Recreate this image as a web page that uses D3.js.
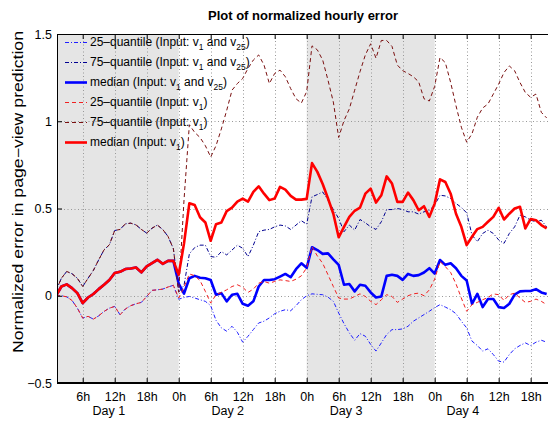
<!DOCTYPE html>
<html>
<head>
<meta charset="utf-8">
<script src="https://cdn.jsdelivr.net/npm/d3@7"></script>
<style>
  body { margin: 0; background: #fff; }
  text { font-family: "Liberation Sans", Arial, Helvetica, sans-serif; fill: #000; }
</style>
</head>
<body>
<svg id="chart" width="548" height="422"></svg>
<script>
// hourly samples, hour 1 .. 93
var hours = d3.range(1, 94);

// 25-quantile (Input: v1 and v25)
var q25Both = [0.0, 0.0, -0.006, -0.027, -0.071, -0.128, -0.118, -0.134, -0.115, -0.09, -0.071, -0.061, -0.109, -0.076, -0.057, -0.046, -0.038, -0.004, 0.031, 0.034, 0.038, 0.05, 0.06, -0.02,
  -0.01, -0.004, -0.013, -0.023, -0.032, -0.057, -0.141, -0.184, -0.203, -0.175, -0.209, -0.266, -0.232, -0.194, -0.156, -0.146, -0.127, -0.103, -0.089, -0.08, -0.086, -0.057, -0.023, 0.0,
  0.011, 0.008, 0.006, -0.008, -0.032, -0.099, -0.16, -0.213, -0.255, -0.217, -0.232, -0.279, -0.317, -0.27, -0.222, -0.194, -0.194, -0.19, -0.175, -0.146, -0.127, -0.108, -0.089, -0.068,
  -0.051, -0.065, -0.08, -0.103, -0.146, -0.184, -0.26, -0.285, -0.317, -0.304, -0.337, -0.375, -0.38, -0.337, -0.304, -0.285, -0.27, -0.285, -0.266, -0.255, -0.266];

// 75-quantile (Input: v1 and v25)
var q75Both = [0.03, 0.10, 0.139, 0.126, 0.10, 0.053, 0.10, 0.145, 0.206, 0.263, 0.292, 0.374, 0.38, 0.412, 0.416, 0.406, 0.38, 0.359, 0.387, 0.405, 0.38, 0.34, 0.27, 0.02,
  0.06, 0.24, 0.276, 0.29, 0.29, 0.225, 0.22, 0.253, 0.234, 0.262, 0.29, 0.272, 0.224, 0.29, 0.367, 0.376, 0.38, 0.395, 0.405, 0.4, 0.38, 0.405, 0.43, 0.41,
  0.567, 0.58, 0.595, 0.548, 0.494, 0.443, 0.367, 0.405, 0.376, 0.437, 0.418, 0.395, 0.38, 0.424, 0.494, 0.494, 0.5, 0.494, 0.481, 0.481, 0.468, 0.481, 0.49, 0.519,
  0.576, 0.572, 0.557, 0.529, 0.506, 0.475, 0.348, 0.31, 0.357, 0.376, 0.357, 0.32, 0.3, 0.357, 0.395, 0.462, 0.452, 0.433, 0.424, 0.433, 0.395];

// median (Input: v1 and v25)
var medBoth = [0.0, 0.053, 0.065, 0.044, 0.015, -0.042, -0.01, 0.01, 0.038, 0.063, 0.09, 0.13, 0.137, 0.153, 0.156, 0.162, 0.134, 0.168, 0.187, 0.206, 0.183, 0.2, 0.2, 0.07,
  0.012, 0.10, 0.114, 0.103, 0.10, 0.09, 0.006, 0.015, -0.032, 0.006, 0.011, -0.046, -0.057, -0.032, 0.053, 0.09, 0.09, 0.095, 0.11, 0.125, 0.106, 0.152, 0.186, 0.16,
  0.278, 0.262, 0.24, 0.243, 0.209, 0.177, 0.063, 0.067, 0.025, 0.063, 0.057, 0.019, -0.01, -0.004, 0.114, 0.12, 0.114, 0.091, 0.125, 0.114, 0.118, 0.133, 0.158, 0.127,
  0.205, 0.177, 0.186, 0.158, 0.114, 0.087, -0.046, 0.011, -0.065, -0.019, -0.019, -0.065, -0.07, -0.046, 0.006, 0.025, 0.027, 0.027, 0.038, 0.019, 0.01];

// 25-quantile (Input: v1)
var q25One = [0.0, 0.0, -0.006, -0.027, -0.071, -0.128, -0.118, -0.134, -0.115, -0.09, -0.071, -0.061, -0.109, -0.076, -0.057, -0.046, -0.038, -0.004, 0.031, 0.034, 0.038, 0.05, 0.06, -0.013,
  0.05, 0.125, 0.115, 0.087, 0.025, -0.042, 0.006, 0.019, 0.034, 0.053, 0.063, 0.049, 0.019, 0.038, 0.072, 0.082, 0.072, 0.082, 0.091, 0.087, 0.082, 0.095, 0.114, 0.16,
  0.281, 0.228, 0.186, 0.12, 0.053, -0.013, -0.019, -0.019, -0.004, 0.011, -0.004, -0.032, -0.051, -0.023, 0.006, -0.004, -0.038, -0.019, 0.0, 0.011, 0.015, 0.0, 0.034, 0.095,
  0.196, 0.167, 0.133, 0.068, -0.013, -0.089, -0.051, -0.038, -0.023, -0.01, 0.011, 0.006, -0.027, 0.006, 0.015, -0.013, -0.038, -0.032, -0.019, -0.032, -0.051];

// 75-quantile (Input: v1)
var q75One = [0.03, 0.10, 0.139, 0.126, 0.10, 0.053, 0.10, 0.145, 0.206, 0.263, 0.292, 0.374, 0.38, 0.412, 0.416, 0.406, 0.38, 0.359, 0.387, 0.405, 0.38, 0.34, 0.27, 0.02,
  0.55, 0.98, 0.936, 0.907, 0.86, 0.795, 0.86, 0.956, 1.062, 1.178, 1.216, 1.245, 1.303, 1.351, 1.38, 1.322, 1.216, 1.274, 1.293, 1.255, 1.187, 1.129, 1.104, 1.17,
  1.432, 1.409, 1.351, 1.235, 1.11, 0.907, 1.004, 1.071, 1.178, 1.284, 1.38, 1.444, 1.361, 1.463, 1.463, 1.429, 1.322, 1.29, 1.274, 1.255, 1.226, 1.129, 1.116, 1.2,
  1.365, 1.336, 1.222, 1.089, 0.966, 0.88, 0.928, 1.023, 1.076, 1.099, 1.156, 1.213, 1.279, 1.317, 1.289, 1.222, 1.165, 1.137, 1.156, 1.051, 1.019];

// median (Input: v1)
var medOne = [0.0, 0.053, 0.065, 0.044, 0.015, -0.042, -0.01, 0.01, 0.038, 0.063, 0.09, 0.13, 0.137, 0.153, 0.156, 0.162, 0.134, 0.168, 0.187, 0.206, 0.183, 0.2, 0.2, 0.12,
  0.30, 0.53, 0.52, 0.45, 0.42, 0.315, 0.41, 0.42, 0.485, 0.505, 0.54, 0.557, 0.54, 0.595, 0.627, 0.585, 0.548, 0.557, 0.624, 0.608, 0.572, 0.551, 0.551, 0.555,
  0.76, 0.71, 0.64, 0.557, 0.47, 0.335, 0.395, 0.452, 0.487, 0.505, 0.585, 0.614, 0.534, 0.576, 0.684, 0.643, 0.538, 0.538, 0.591, 0.548, 0.49, 0.513, 0.452, 0.528,
  0.667, 0.652, 0.585, 0.47, 0.395, 0.29, 0.338, 0.382, 0.395, 0.424, 0.452, 0.504, 0.437, 0.47, 0.5, 0.51, 0.386, 0.44, 0.433, 0.405, 0.386];

// axis labels
var xTicks = [6, 12, 18, 24, 30, 36, 42, 48, 54, 60, 66, 72, 78, 84, 90];
var xTickLabels = ["6h", "12h", "18h", "0h", "6h", "12h", "18h", "0h", "6h", "12h", "18h", "0h", "6h", "12h", "18h"];
var dayNames = ["Day 1", "Day 2", "Day 3", "Day 4"];
var dayPos = [10.9, 33.2, 55.4, 77.3];
var yTicks = [-0.5, 0, 0.5, 1, 1.5];
var yTickLabels = ["\u22120.5", "0", "0.5", "1", "1.5"];
// shaded days [start hour, end hour]
var shaded = [[1.18, 24], [48, 72]];

var series = [
  {name: [["25\u2013quantile (Input: v"], ["1", 1], [" and v"], ["25", 1], [")"]], values: q25Both, color: "#1f1fff", width: 1, dash: "4,2,1,2"},
  {name: [["75\u2013quantile (Input: v"], ["1", 1], [" and v"], ["25", 1], [")"]], values: q75Both, color: "#000090", width: 1, dash: "4,2,1,2"},
  {name: [["median (Input: v"], ["1", 1], [" and v"], ["25", 1], [")"]], values: medBoth, color: "#0000ff", width: 2.6, dash: null},
  {name: [["25\u2013quantile (Input: v"], ["1", 1], [")"]], values: q25One, color: "#f02020", width: 1, dash: "4,3"},
  {name: [["75\u2013quantile (Input: v"], ["1", 1], [")"]], values: q75One, color: "#7a1010", width: 1, dash: "4,3"},
  {name: [["median (Input: v"], ["1", 1], [")"]], values: medOne, color: "#ff0000", width: 2.6, dash: null}
];

var margin = {top: 34, left: 57},
    width = 492,
    height = 349;

var svg = d3.select("#chart");

var x = d3.scaleLinear().domain([1.18, 93.44]).range([margin.left, margin.left + width]);
var y = d3.scaleLinear().domain([-0.5, 1.5]).range([margin.top + height, margin.top]);

svg.append("defs").append("clipPath").attr("id", "plotclip")
  .append("rect")
  .attr("x", margin.left).attr("y", margin.top)
  .attr("width", width).attr("height", height);

// grey day bands
svg.selectAll(".band")
  .data(shaded)
  .enter().append("rect")
  .attr("class", "band")
  .attr("x", function(d) { return x(d[0]); })
  .attr("y", margin.top)
  .attr("width", function(d) { return x(d[1]) - x(d[0]); })
  .attr("height", height)
  .attr("fill", "#e5e5e5");

// dotted grid
var grid = svg.append("g").attr("stroke", "#999").attr("stroke-width", 1).attr("stroke-dasharray", "1,2.5");
grid.selectAll(".gx")
  .data(xTicks)
  .enter().append("line")
  .attr("x1", function(d) { return Math.round(x(d)) + 0.5; })
  .attr("x2", function(d) { return Math.round(x(d)) + 0.5; })
  .attr("y1", margin.top).attr("y2", margin.top + height);
grid.selectAll(".gy")
  .data(yTicks.slice(1, -1))
  .enter().append("line")
  .attr("y1", function(d) { return Math.round(y(d)) + 0.5; })
  .attr("y2", function(d) { return Math.round(y(d)) + 0.5; })
  .attr("x1", margin.left).attr("x2", margin.left + width);

// the lines
var line = d3.line()
  .x(function(d, i) { return x(hours[i]); })
  .y(function(d) { return y(d); });

var plot = svg.append("g").attr("clip-path", "url(#plotclip)");
series.forEach(function(s) {
  plot.append("path")
    .datum(s.values)
    .attr("d", line)
    .attr("fill", "none")
    .attr("stroke", s.color)
    .attr("stroke-width", s.width)
    .attr("stroke-dasharray", s.dash)
    .attr("stroke-linejoin", "round");
});

// axes (ticks point inward, MATLAB style)
var bottom = svg.append("g")
  .attr("transform", "translate(0," + (margin.top + height) + ")")
  .call(d3.axisBottom(x).tickValues(xTicks).tickSizeInner(-5).tickSizeOuter(0)
    .tickFormat(function(d, i) { return xTickLabels[i]; }));
bottom.selectAll("text").attr("y", 9).attr("dy", "0.71em").style("font-size", "12.5px");

var top = svg.append("g")
  .attr("transform", "translate(0," + margin.top + ")")
  .call(d3.axisTop(x).tickValues(xTicks).tickSizeInner(-5).tickSizeOuter(0).tickFormat(""));

var left = svg.append("g")
  .attr("transform", "translate(" + margin.left + ",0)")
  .call(d3.axisLeft(y).tickValues(yTicks).tickSizeInner(-5).tickSizeOuter(0)
    .tickFormat(function(d, i) { return yTickLabels[i]; }));
left.selectAll("text").attr("x", -5).style("font-size", "12.5px");

svg.selectAll(".domain").attr("stroke", "#000");
svg.selectAll(".tick line").attr("stroke", "#000");
svg.selectAll(".tick text").attr("fill", "#000").style("font-family", "Liberation Sans, Arial, sans-serif");

svg.append("rect")
  .attr("x", margin.left + 0.5).attr("y", margin.top + 0.5)
  .attr("width", width).attr("height", height - 1)
  .attr("fill", "none").attr("stroke", "#000");

// day labels
svg.selectAll(".day")
  .data(dayNames)
  .enter().append("text")
  .attr("class", "day")
  .attr("x", function(d, i) { return x(dayPos[i]); })
  .attr("y", 415)
  .attr("text-anchor", "middle")
  .style("font-size", "12.5px")
  .text(function(d) { return d; });

// title
svg.append("text")
  .attr("x", 303).attr("y", 20)
  .attr("text-anchor", "middle")
  .style("font-size", "13px").style("font-weight", "bold")
  .text("Plot of normalized hourly error");

// y label
svg.append("text")
  .attr("transform", "translate(18.5,192) rotate(-90)")
  .attr("text-anchor", "middle")
  .attr("dy", "0.35em")
  .attr("textLength", 322)
  .attr("lengthAdjust", "spacingAndGlyphs")
  .style("font-size", "14px")
  .text("Normalized error in page\u2212view prediction");

// legend, no box
var legend = svg.append("g");
series.forEach(function(s, i) {
  var ly = 42 + i * 20;
  legend.append("line")
    .attr("x1", 65).attr("x2", 87)
    .attr("y1", ly + 0.5).attr("y2", ly + 0.5)
    .attr("stroke", s.color)
    .attr("stroke-width", s.width)
    .attr("stroke-dasharray", s.dash);
  var t = legend.append("text")
    .attr("x", 90).attr("y", ly + 4)
    .style("font-size", "12px");
  s.name.forEach(function(p) {
    if (p[1]) {
      t.append("tspan").attr("dy", 4).style("font-size", "8.5px").text(p[0]);
    } else {
      var sp = t.append("tspan").text(p[0]);
      if (t.selectAll("tspan").size() > 1) sp.attr("dy", -4);
    }
  });
});
</script>
</body>
</html>
